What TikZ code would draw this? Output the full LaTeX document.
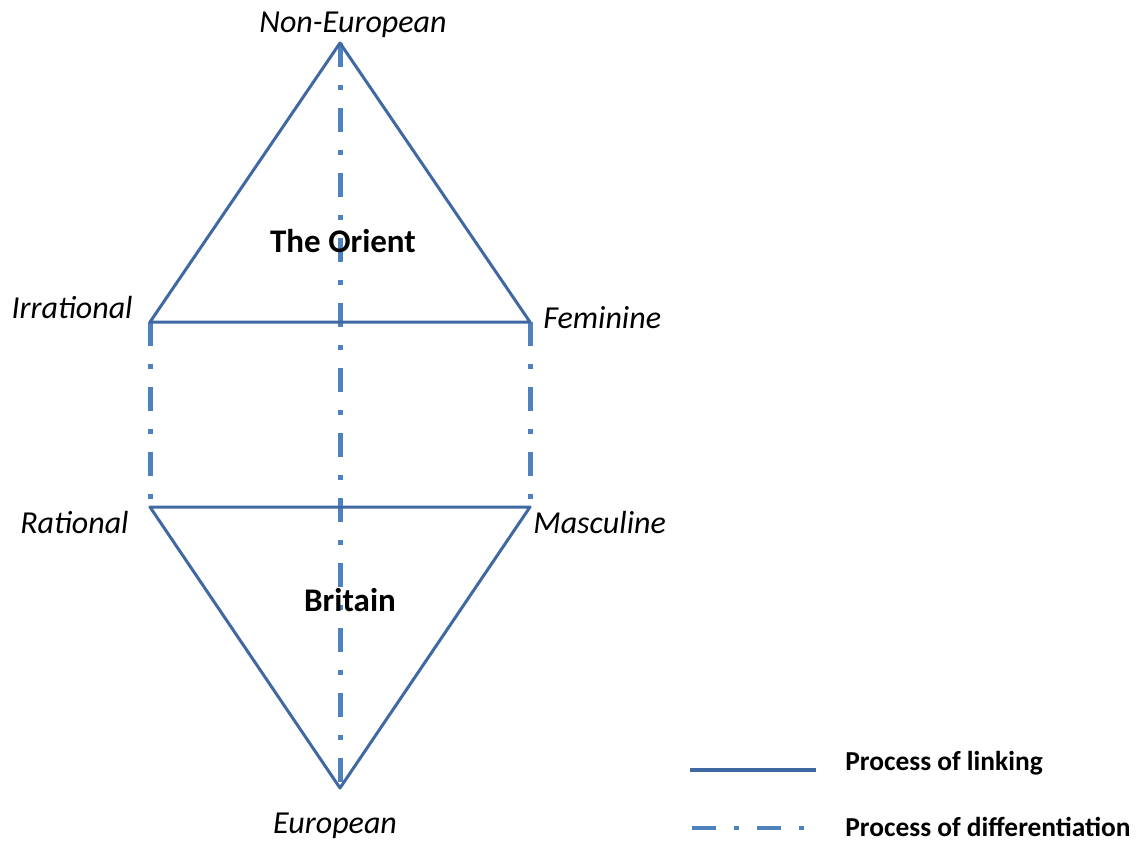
\documentclass[tikz,border=0pt]{standalone}
\usepackage{fontspec}
\setmainfont{Carlito}
\definecolor{linkblue}{HTML}{4068A2}
\definecolor{diffblue}{HTML}{4F81BD}
\begin{document}
\begin{tikzpicture}[x=0.5pt,y=-0.5pt,font=\fontsize{15}{18}\selectfont,
	link/.style={linkblue,line width=1.5pt},
	diff/.style={diffblue,line width=2.5pt,dash pattern=on 12pt off 9pt on 2.5pt off 9pt},
	lbl/.style={font=\fontsize{16}{19}\selectfont\itshape,inner sep=0pt},
	area/.style={font=\fontsize{16.5}{19}\selectfont\bfseries,inner sep=0pt},
	key/.style={font=\fontsize{13.7}{16}\selectfont\bfseries,inner sep=0pt,anchor=west}]
	\useasboundingbox (0,0) rectangle (1140,843);
	\coordinate (top) at (340,43);
	\coordinate (irr) at (150,322);
	\coordinate (fem) at (530,322);
	\coordinate (rat) at (150,507);
	\coordinate (mas) at (530,507);
	\coordinate (bot) at (340,788);
	\draw[diff] (top)--(bot);
	\draw[diff] (irr)--(rat);
	\draw[diff] (fem)--(mas);
	\draw[link,line join=round] (irr)--(top)--(fem)--cycle;
	\draw[link,line join=round] (rat)--(bot)--(mas)--cycle;
	\node[lbl] (nonEu) at (353,25) {Non-European};
	\node[lbl,anchor=east] (irrTxt) at (133,307) {Irrational};
	\node[lbl,anchor=west] (femTxt) at (543,318) {Feminine};
	\node[lbl,anchor=east] (ratTxt) at (129,522) {Rational};
	\node[lbl,anchor=west] (masTxt) at (533,522) {Masculine};
	\node[lbl] (eu) at (335,826) {European};
	\node[area] (orient) at (343,241) {The Orient};
	\node[area] (brit) at (350,600) {Britain};
	% legend
	\coordinate (linkA) at (690,770);
	\coordinate (linkB) at (816,770);
	\coordinate (diffA) at (692,828);
	\coordinate (diffB) at (818,828);
	\draw[link,line width=2pt] (linkA)--(linkB);
	\draw[diff,line width=2pt] (diffA)--(diffB);
	\node[key] (linkTxt) at (845,763) {Process of linking};
	\node[key] (diffTxt) at (845,827) {Process of differentiation};
\end{tikzpicture}
\end{document}
